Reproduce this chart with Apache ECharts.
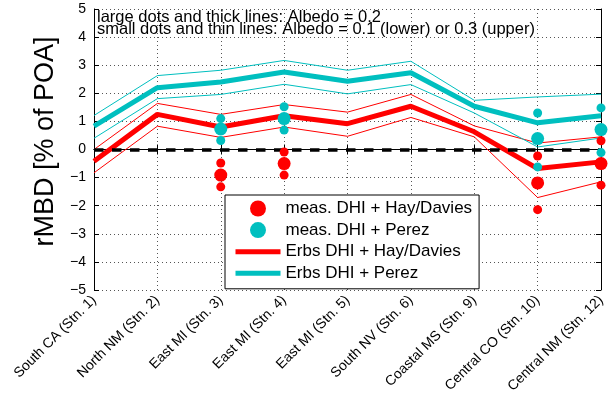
<!DOCTYPE html>
<html>
<head>
<meta charset="utf-8">
<script src="https://cdn.jsdelivr.net/npm/echarts@6/dist/echarts.min.js"></script>
<style>
  html, body { margin: 0; padding: 0; background: #fff; }
  #chart { width: 613px; height: 402px; }
</style>
</head>
<body>
<div id="chart"></div>
<script>
// 站点
const stations = ['South CA (Stn. 1)', 'North NM (Stn. 2)', 'East MI (Stn. 3)', 'East MI (Stn. 4)', 'East MI (Stn. 5)',
    'South NV (Stn. 6)', 'Coastal MS (Stn. 9)', 'Central CO (Stn. 10)', 'Central NM (Stn. 12)'];

// Erbs DHI, albedo 0.2 (thick) / 0.1 (lower) / 0.3 (upper)
const hayErbs = [-0.42, 1.25, 0.80, 1.20, 0.92, 1.54, 0.63, -0.68, -0.44];
const hayErbsLow = [-0.83, 0.83, 0.43, 0.80, 0.47, 1.14, 0.45, -1.71, -1.15];
const hayErbsHigh = [0.00, 1.64, 1.25, 1.60, 1.33, 1.96, 0.84, 0.23, 0.45];
const perezErbs = [0.83, 2.20, 2.40, 2.76, 2.43, 2.73, 1.54, 0.95, 1.20];
const perezErbsLow = [0.40, 1.81, 1.96, 2.32, 1.98, 2.31, 1.30, 0.09, 0.41];
const perezErbsHigh = [1.21, 2.63, 2.82, 3.17, 2.82, 3.14, 1.75, 1.87, 1.97];

// measured DHI, only at stations 3, 4, 10, 12
const measIdx = [2, 3, 7, 8];
const hayMeas = [-0.91, -0.50, -1.19, -0.50];
const hayMeasLow = [-1.33, -0.91, -2.14, -1.27];
const hayMeasHigh = [-0.48, -0.09, -0.23, 0.31];
const perezMeas = [0.73, 1.10, 0.39, 0.71];
const perezMeasLow = [0.32, 0.69, -0.62, -0.11];
const perezMeasHigh = [1.10, 1.52, 1.30, 1.48];

const yMin = -5, yMax = 5, yStep = 1;

const RED = '#ff0000';
const CYAN = '#00bfbf';
const FONT = 'Liberation Sans, Arial, Helvetica, sans-serif';

const pairs = (vals) => vals.map((v, i) => [measIdx[i], v]);

function thinLine(name, data, color) {
    return {
        name, type: 'line', data, symbol: 'none', silent: true, z: 1,
        lineStyle: { color, width: 1 }, itemStyle: { color }
    };
}
function thickLine(name, data, color) {
    return {
        name, type: 'line', data, symbol: 'none', silent: true, z: 2,
        lineStyle: { color, width: 5 }, itemStyle: { color }
    };
}
function dots(name, data, color, size) {
    return {
        name, type: 'scatter', data, symbol: 'circle', symbolSize: size, silent: true, z: 4,
        itemStyle: { color, opacity: 1 }
    };
}

const chart = echarts.init(document.getElementById('chart'));
const axisLine = { show: true, lineStyle: { color: '#000', width: 1 } };
const tick = { show: true, inside: true, length: 5, lineStyle: { color: '#000' } };
// 图例里的线条不画中间的圆点
const lineLegend = (name) => ({ name, lineStyle: { width: 5, opacity: 1 }, itemStyle: { opacity: 0 } });

chart.setOption({
    animation: false,
    backgroundColor: '#fff',
    textStyle: { fontFamily: FONT },
    title: {
        text: 'large dots and thick lines: Albedo = 0.2\nsmall dots and thin lines: Albedo = 0.1 (lower) or 0.3 (upper)',
        left: 97, top: 11, padding: 0,
        textStyle: { fontSize: 16.5, fontWeight: 'normal', color: '#000', lineHeight: 12.5, fontFamily: FONT }
    },
    legend: {
        orient: 'vertical', left: 225, top: 195,
        padding: [5, 7, 7, 8],
        itemWidth: 45, itemHeight: 16, itemGap: 4.6,
        backgroundColor: '#fff', borderColor: '#000', borderWidth: 1, borderRadius: 0,
        textStyle: { fontSize: 17, color: '#000', lineHeight: 16, fontFamily: FONT },
        selectedMode: false,
        data: [
            { name: 'meas. DHI + Hay/Davies', icon: 'circle' },
            { name: 'meas. DHI + Perez', icon: 'circle' },
            lineLegend('Erbs DHI + Hay/Davies'),
            lineLegend('Erbs DHI + Perez')
        ]
    },
    grid: { left: 94, right: 12, top: 9, bottom: 112 },
    xAxis: [{
        type: 'category', data: stations, boundaryGap: false,
        axisLine, axisTick: { ...tick, alignWithLabel: true, interval: 0 },
        axisLabel: { rotate: 45, interval: 0, fontSize: 14, color: '#000', margin: 8, fontFamily: FONT },
        splitLine: { show: true, interval: 0, lineStyle: { color: '#555', width: 1, type: [1, 3] } }
    }, {
        type: 'category', data: stations, boundaryGap: false, position: 'top',
        axisLine, axisTick: { ...tick, interval: 0 }, axisLabel: { show: false }, splitLine: { show: false }
    }],
    yAxis: [{
        type: 'value', min: yMin, max: yMax, interval: yStep,
        axisLine, axisTick: tick,
        axisLabel: {
            fontSize: 14, color: '#000', margin: 8, fontFamily: FONT,
            formatter: v => v < 0 ? '\u2212' + Math.abs(v) : String(v)
        },
        splitLine: { show: true, lineStyle: { color: '#555', width: 1, type: [1, 3] } },
        name: 'rMBD [% of POA]', nameLocation: 'middle', nameGap: 28,
        nameTextStyle: { fontSize: 27, color: '#000', fontFamily: FONT, padding: [0, 0, 0, 16] }
    }, {
        type: 'value', min: yMin, max: yMax, interval: yStep, position: 'right',
        axisLine, axisTick: tick, axisLabel: { show: false }, splitLine: { show: false }
    }],
    series: [
        thinLine('Hay/Davies 0.1', hayErbsLow, RED),
        thinLine('Hay/Davies 0.3', hayErbsHigh, RED),
        thinLine('Perez 0.1', perezErbsLow, CYAN),
        thinLine('Perez 0.3', perezErbsHigh, CYAN),
        thickLine('Erbs DHI + Hay/Davies', hayErbs, RED),
        {
            ...thickLine('Erbs DHI + Perez', perezErbs, CYAN),
            markLine: {
                silent: true, symbol: 'none', z: 3, animation: false,
                label: { show: false },
                lineStyle: { color: '#000', width: 3.5, type: [9.5, 8.5] },
                data: [{ yAxis: 0 }]
            }
        },
        dots('meas. DHI + Hay/Davies', pairs(hayMeas), RED, 13),
        dots('Hay/Davies meas. 0.1', pairs(hayMeasLow), RED, 9),
        dots('Hay/Davies meas. 0.3', pairs(hayMeasHigh), RED, 9),
        dots('meas. DHI + Perez', pairs(perezMeas), CYAN, 13),
        dots('Perez meas. 0.1', pairs(perezMeasLow), CYAN, 9),
        dots('Perez meas. 0.3', pairs(perezMeasHigh), CYAN, 9)
    ]
});
</script>
</body>
</html>
